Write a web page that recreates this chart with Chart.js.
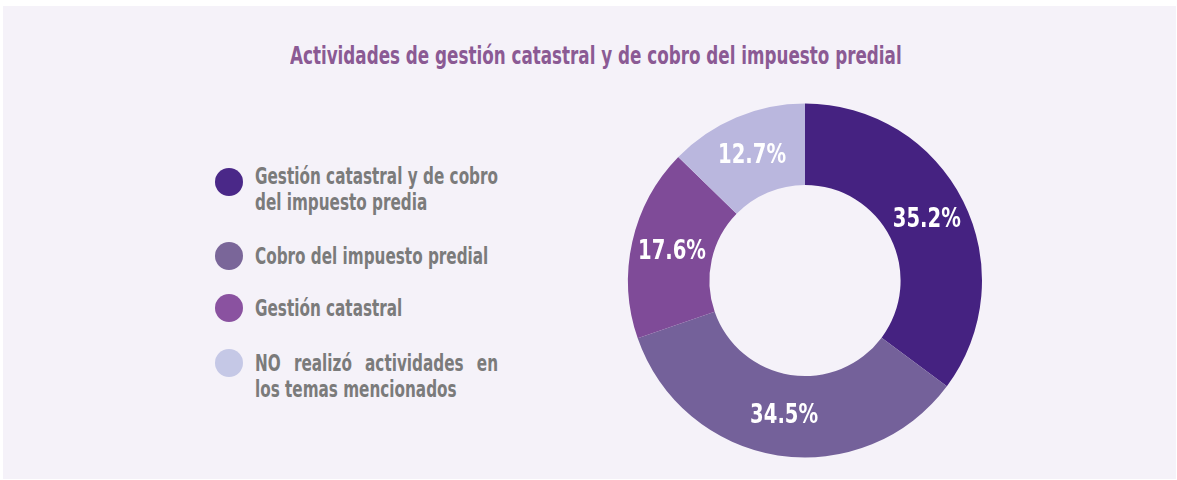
<!DOCTYPE html>
<html>
<head>
<meta charset="utf-8">
<script src="https://cdn.jsdelivr.net/npm/chart.js@4"></script>
<style>
  body { margin: 0; background: #fff; }
  #panel { position: absolute; left: 3px; top: 6px; width: 1173px; height: 473px; background: #f5f2f9; }
  .cond { font-family: "DejaVu Sans", sans-serif; font-weight: bold; font-stretch: condensed; white-space: nowrap; }
  #title { position: absolute; top: 42px; font-size: 24px; line-height: 28px; color: #8b5a94; transform-origin: 0 0; }
  .dot { position: absolute; width: 28px; height: 28px; border-radius: 50%; }
  .txt { position: absolute; font-size: 23px; line-height: 26px; color: #7b7b7b; transform-origin: 0 0; }
  .txt div { text-align: justify; text-align-last: justify; }
  .txt div.last { text-align-last: left; }
  #wrap { position: absolute; left: 617px; top: 92px; width: 376px; height: 377px; }
</style>
</head>
<body>
<div id="panel"></div>
<div id="title" class="cond">Actividades de gestión catastral y de cobro del impuesto predial</div>
<div id="legend"></div>
<div id="wrap"><canvas id="donutChart"></canvas></div>
<script>
const categories = [
  ["Gestión catastral y de cobro", "del impuesto predia"],
  ["Cobro del impuesto predial"],
  ["Gestión catastral"],
  ["NO realizó actividades en", "los temas mencionados"]
];
const percentages = [35.2, 34.5, 17.6, 12.7];
const sliceColors = ["#452281", "#74619a", "#7f4b98", "#bab7de"];
const dotColors = ["#4a2888", "#7a6699", "#8a52a0", "#c5c8e6"];

// squeeze a text block horizontally to the condensed width of the picture
function fit(el, target) {
  let s = target / el.scrollWidth;
  el.style.transform = "scaleX(" + s + ")";
  return s;
}

let title = document.getElementById("title");
fit(title, 612);
title.style.left = (596 - 306) + "px";

// legend from the same arrays; widest line sets the squeeze
const itemTops = [163, 243, 295, 350];
const dotOffsets = [6, 0, 0, 0];
let legendBox = document.getElementById("legend");
let widest = 0;
categories.flat().forEach((ln) => {
  let probe = document.createElement("div");
  probe.className = "txt cond";
  probe.textContent = ln;
  legendBox.appendChild(probe);
  widest = Math.max(widest, probe.scrollWidth);
  legendBox.removeChild(probe);
});
let ls = 243 / widest;
categories.forEach((lines, i) => {
  let dot = document.createElement("div");
  dot.className = "dot";
  dot.style.background = dotColors[i];
  dot.style.left = "215px";
  dot.style.top = (itemTops[i] + dotOffsets[i] - 1) + "px";
  legendBox.appendChild(dot);
  let t = document.createElement("div");
  t.className = "txt cond";
  t.style.left = "255px";
  t.style.top = itemTops[i] + "px";
  t.style.width = (243 / ls) + "px";
  t.style.transform = "scaleX(" + ls + ")";
  lines.forEach((ln, j) => {
    let d = document.createElement("div");
    d.textContent = ln;
    if (j === lines.length - 1) d.className = "last";
    t.appendChild(d);
  });
  legendBox.appendChild(t);
});

const sliceLabels = {
  id: "sliceLabels",
  afterDatasetsDraw(chart) {
    const ctx = chart.ctx;
    const meta = chart.getDatasetMeta(0);
    ctx.save();
    ctx.fillStyle = "#ffffff";
    ctx.font = 'bold 26px "DejaVu Sans", sans-serif';
    ctx.textAlign = "center";
    ctx.textBaseline = "middle";
    meta.data.forEach((arc, i) => {
      const p = arc.tooltipPosition();
      const txt = percentages[i].toFixed(1) + "%";
      const sx = 68 / ctx.measureText(txt).width;
      ctx.save();
      ctx.translate(p.x, p.y);
      ctx.scale(sx, 1);
      ctx.fillText(txt, 0, 1);
      ctx.restore();
    });
    ctx.restore();
  }
};

let donutCtx = document.getElementById("donutChart").getContext("2d");
let donutChart = new Chart(donutCtx, {
  type: "doughnut",
  data: {
    labels: categories,
    datasets: [
      {
        data: percentages,
        backgroundColor: sliceColors,
        borderWidth: 0,
      },
    ],
  },
  options: {
    responsive: true,
    maintainAspectRatio: false,
    animation: false,
    cutout: "54%",
    layout: { padding: 11 },
    plugins: {
      legend: { display: false },
      tooltip: { enabled: false },
    },
  },
  plugins: [sliceLabels],
});
</script>
</body>
</html>
